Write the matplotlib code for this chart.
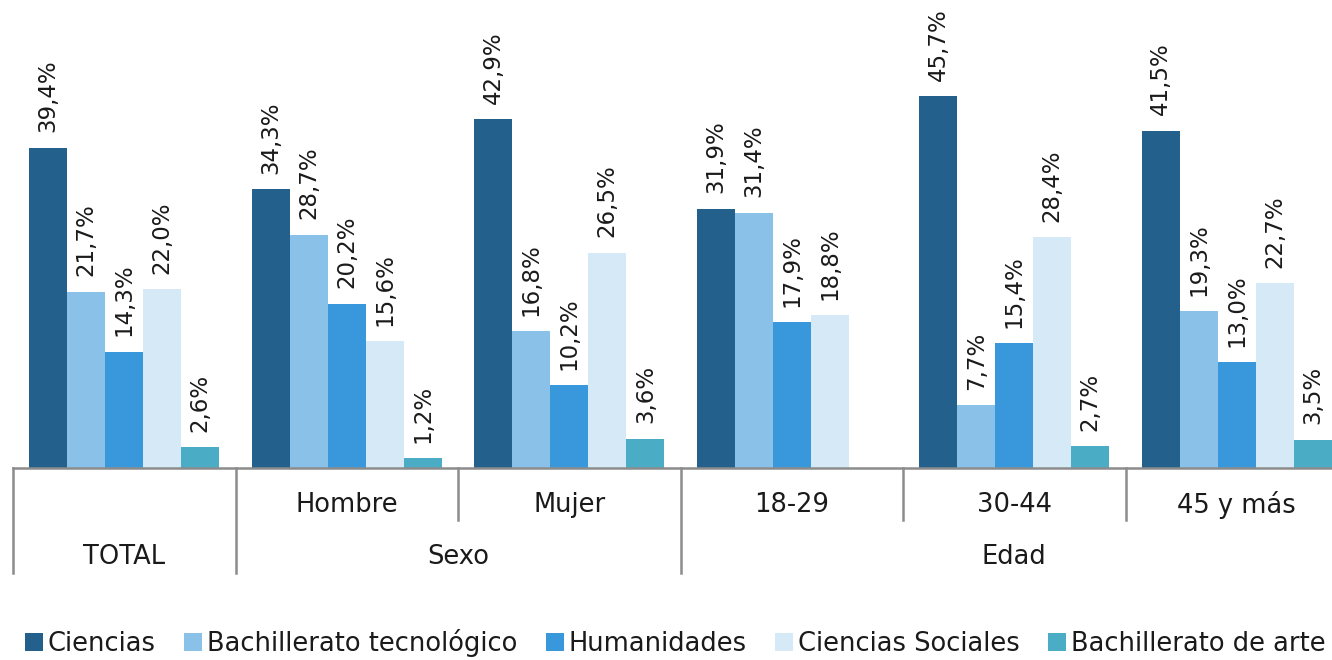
import numpy as np
import matplotlib
matplotlib.use("Agg")
import matplotlib.pyplot as plt
from matplotlib import transforms
from matplotlib.patches import Patch

# categories and series (values in %)
groups = ["TOTAL", "Hombre", "Mujer", "18-29", "30-44", "45 y más"]
series = ["Ciencias", "Bachillerato tecnológico", "Humanidades",
          "Ciencias Sociales", "Bachillerato de arte"]
ciencias = [39.4, 34.3, 42.9, 31.9, 45.7, 41.5]
bach_tec = [21.7, 28.7, 16.8, 31.4, 7.7, 19.3]
humanidades = [14.3, 20.2, 10.2, 17.9, 15.4, 13.0]
ciencias_soc = [22.0, 15.6, 26.5, 18.8, 28.4, 22.7]
bach_arte = [2.6, 1.2, 3.6, np.nan, 2.7, 3.5]
values = [ciencias, bach_tec, humanidades, ciencias_soc, bach_arte]

colors = ["#23608C", "#89C1E8", "#3898DB", "#D6E9F7", "#4BACC6"]

# outer category level: (label, first group, last group)
outer = [("TOTAL", 0, 0), ("Sexo", 1, 2), ("Edad", 3, 5)]

plt.rcParams["font.family"] = "DejaVu Sans"

W, H = 1332, 660
fig = plt.figure(figsize=(W / 100, H / 100), dpi=100)
base_px = 468
ax = fig.add_axes([13 / W, 1 - base_px / H, (1348 - 13) / W, base_px / H])
ax.set_xlim(-0.5, len(groups) - 0.5)
ax.set_ylim(0, base_px / 8.13)
ax.axis("off")

x = np.arange(len(groups))
bw = 0.171
for j, (vals, c) in enumerate(zip(values, colors)):
    xs = x + (j - 2) * bw
    v = np.array(vals, dtype=float)
    ok = ~np.isnan(v)
    ax.bar(xs[ok], v[ok], width=bw, color=c, edgecolor="none", label=series[j])
    for xi, vi in zip(xs[ok], v[ok]):
        ax.annotate(f"{vi:.1f}%".replace(".", ","), (xi, vi), xytext=(0, 11),
                    textcoords="offset points", rotation=90, ha="center",
                    va="bottom", fontsize=16.5, color="#1a1a1a",
                    annotation_clip=False)

# category axis drawn by hand
tr = transforms.blended_transform_factory(ax.transData, fig.transFigure)
line_kw = dict(color="#8c8c8c", lw=1.8, transform=tr, clip_on=False)
y_axis = 1 - 468 / H
y_mid = 1 - 520 / H
y_low = 1 - 573 / H
ax.plot([-0.5, len(groups) - 0.5], [y_axis, y_axis], **line_kw)

outer_edges = set()
for _, a, b in outer:
    outer_edges.add(a - 0.5)
    outer_edges.add(b + 0.5)
for k in range(len(groups) + 1):
    xe = k - 0.5
    ybot = y_low if xe in outer_edges else y_mid
    ax.plot([xe, xe], [y_axis, ybot], **line_kw)

for i, g in enumerate(groups):
    if g == "TOTAL":
        continue
    ax.text(i, 1 - 505 / H, g, transform=tr, ha="center", va="center",
            fontsize=18.5, color="#1a1a1a")
for lab, a, b in outer:
    ax.text((a + b) / 2, 1 - 557 / H, lab, transform=tr, ha="center",
            va="center", fontsize=18.5, color="#1a1a1a")

handles = [Patch(facecolor=c, edgecolor="none") for c in colors]
fig.legend(handles, series, loc="center", bbox_to_anchor=(0.507, 1 - 643 / H),
           ncol=5, frameon=False, fontsize=18.5, handlelength=0.7,
           handleheight=0.7, handletextpad=0.2, columnspacing=1.1,
           labelcolor="#1a1a1a")

fig.savefig("out.png", dpi=100)
